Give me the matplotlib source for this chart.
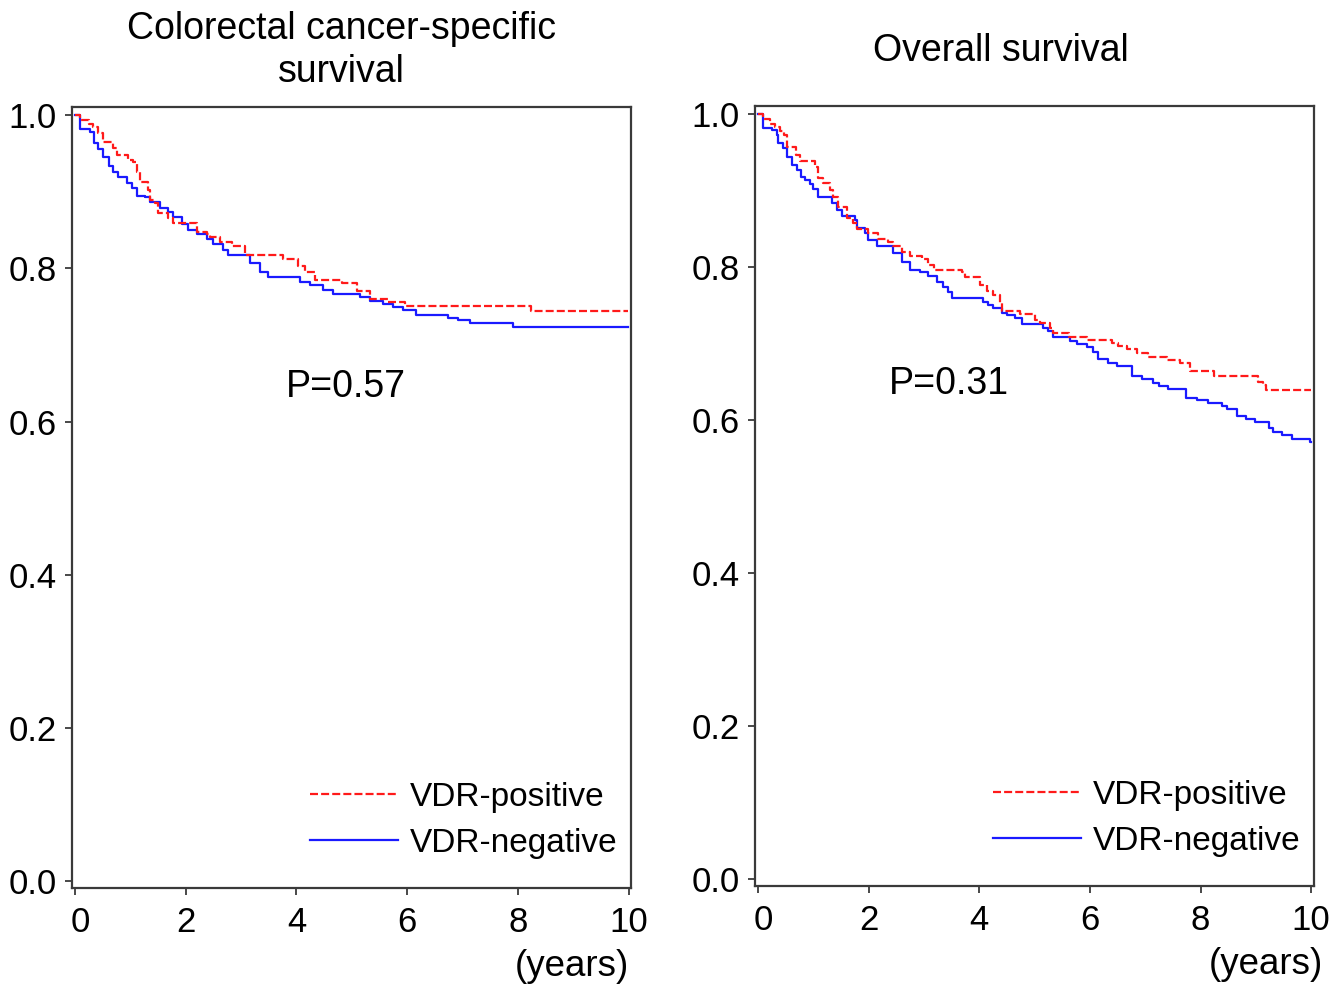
import matplotlib
matplotlib.use("Agg")
import matplotlib.pyplot as plt
import matplotlib.transforms as mtransforms

plt.rcParams['font.family'] = ['Liberation Sans', 'DejaVu Sans']

# Colorectal cancer-specific survival (Kaplan-Meier steps)
css_pos_t = [0, 0.09, 0.25, 0.32, 0.42, 0.51, 0.69, 0.76, 0.96, 1.05, 1.12, 1.17,
             1.32, 1.35, 1.44, 1.50, 1.68, 1.77, 2.20, 2.38, 2.44, 2.62, 2.83, 3.07,
             3.75, 4.03, 4.15, 4.33, 4.82, 5.09, 5.32, 5.65, 5.96, 8.23, 9.98]
css_pos_s = [1.0, 0.993, 0.988, 0.984, 0.977, 0.965, 0.957, 0.948, 0.941, 0.939, 0.926, 0.913,
             0.902, 0.889, 0.885, 0.872, 0.866, 0.859, 0.847, 0.845, 0.841, 0.834, 0.829, 0.817,
             0.812, 0.803, 0.795, 0.785, 0.781, 0.770, 0.760, 0.756, 0.751, 0.744, 0.744]
css_neg_t = [0, 0.09, 0.27, 0.34, 0.42, 0.51, 0.61, 0.69, 0.78, 0.94, 1.03, 1.12, 1.26,
             1.35, 1.53, 1.68, 1.77, 1.93, 2.04, 2.20, 2.38, 2.49, 2.67, 2.76, 3.16, 3.34,
             3.48, 4.06, 4.24, 4.48, 4.66, 5.14, 5.32, 5.56, 5.74, 5.92, 6.16, 6.73, 6.91,
             7.13, 7.91, 9.98]
css_neg_s = [1.0, 0.982, 0.978, 0.963, 0.956, 0.945, 0.933, 0.926, 0.919, 0.911, 0.905, 0.894, 0.893,
             0.886, 0.879, 0.873, 0.867, 0.858, 0.850, 0.845, 0.838, 0.832, 0.824, 0.817, 0.807, 0.795,
             0.789, 0.782, 0.778, 0.772, 0.766, 0.762, 0.758, 0.754, 0.749, 0.745, 0.739, 0.735, 0.732,
             0.728, 0.723, 0.723]

# Overall survival
os_pos_t = [0, 0.09, 0.22, 0.31, 0.40, 0.47, 0.52, 0.69, 0.76, 1.03, 1.08, 1.18, 1.30,
            1.36, 1.45, 1.61, 1.72, 1.79, 1.99, 2.17, 2.35, 2.44, 2.60, 2.75, 2.97, 3.07,
            3.18, 3.69, 3.74, 4.01, 4.14, 4.25, 4.38, 4.41, 4.74, 5.01, 5.10, 5.28, 5.33,
            5.62, 5.95, 6.40, 6.51, 6.67, 6.85, 7.05, 7.40, 7.63, 7.81, 8.25, 9.04, 9.13,
            9.19, 10.0]
os_pos_s = [1.0, 0.994, 0.987, 0.983, 0.978, 0.972, 0.957, 0.947, 0.939, 0.931, 0.917, 0.910, 0.901,
            0.892, 0.878, 0.864, 0.858, 0.850, 0.845, 0.837, 0.833, 0.828, 0.820, 0.815, 0.810, 0.803,
            0.796, 0.793, 0.787, 0.776, 0.769, 0.764, 0.753, 0.743, 0.739, 0.731, 0.727, 0.721, 0.714,
            0.709, 0.705, 0.701, 0.697, 0.693, 0.688, 0.683, 0.679, 0.675, 0.664, 0.658, 0.650, 0.646,
            0.640, 0.640]
os_neg_t = [0, 0.09, 0.25, 0.34, 0.36, 0.45, 0.52, 0.61, 0.71, 0.78, 0.85, 0.94, 0.99,
            1.08, 1.34, 1.43, 1.52, 1.75, 1.79, 1.93, 1.99, 2.15, 2.44, 2.60, 2.75, 2.93,
            3.07, 3.24, 3.35, 3.44, 3.51, 4.07, 4.16, 4.25, 4.41, 4.50, 4.65, 4.77, 5.15,
            5.24, 5.33, 5.64, 5.77, 5.95, 6.06, 6.15, 6.33, 6.49, 6.76, 6.94, 7.14, 7.25,
            7.41, 7.74, 7.94, 8.14, 8.39, 8.48, 8.66, 8.82, 8.99, 9.24, 9.31, 9.48, 9.66,
            9.97, 10.0]
os_neg_s = [1.0, 0.982, 0.979, 0.973, 0.962, 0.955, 0.944, 0.934, 0.927, 0.918, 0.914, 0.908, 0.902,
            0.891, 0.884, 0.875, 0.867, 0.862, 0.851, 0.844, 0.836, 0.828, 0.819, 0.807, 0.796, 0.794,
            0.789, 0.781, 0.774, 0.768, 0.760, 0.754, 0.751, 0.746, 0.740, 0.737, 0.734, 0.726, 0.720,
            0.716, 0.709, 0.703, 0.699, 0.695, 0.689, 0.680, 0.675, 0.671, 0.658, 0.654, 0.649, 0.645,
            0.641, 0.629, 0.627, 0.623, 0.618, 0.615, 0.605, 0.602, 0.597, 0.590, 0.584, 0.580, 0.575,
            0.571, 0.571]

titles = ["Colorectal cancer-specific\nsurvival", "Overall survival"]
p_labels = ["P=0.57", "P=0.31"]
x_ticks = [0, 2, 4, 6, 8, 10]
y_ticks = [0.0, 0.2, 0.4, 0.6, 0.8, 1.0]

frame_col = '#3a3a3a'
red = '#ff1a1a'
blue = '#1a1aff'

fig = plt.figure(figsize=(13.4, 9.89), dpi=100)
ax1 = fig.add_axes([0.0537, 0.1021, 0.4175, 0.7897])
ax2 = fig.add_axes([0.5634, 0.1041, 0.4172, 0.7887])

panels = [
    (ax1, css_pos_t, css_pos_s, css_neg_t, css_neg_s, (4.89, 0.645)),
    (ax2, os_pos_t, os_pos_s, os_neg_t, os_neg_s, (3.45, 0.647)),
]

for i, (ax, pt, ps, nt, ns, ppos) in enumerate(panels):
    ax.step(pt, ps, where='post', color=red, lw=1.6,
            linestyle=(0, (3.6, 1.4)), label='VDR-positive', zorder=3)
    ax.step(nt, ns, where='post', color=blue, lw=1.6, label='VDR-negative', zorder=2)

    ax.set_xlim(-0.054, 10.05)
    ax.set_ylim(-0.0087, 1.0105)
    ax.set_xticks(x_ticks)
    ax.set_yticks(y_ticks)
    ax.set_yticklabels([f"{v:.1f}" for v in y_ticks])
    for sp in ax.spines.values():
        sp.set_color(frame_col)
        sp.set_linewidth(1.6)
    ax.tick_params(direction='out', length=5, width=1.3, color=frame_col,
                   labelsize=25)
    ax.tick_params(axis='x', pad=8)
    ax.tick_params(axis='y', pad=6)

    # first x tick label sits a little to the right of its tick
    lbl0 = ax.get_xticklabels()[0]
    lbl0.set_transform(lbl0.get_transform() +
                       mtransforms.ScaledTranslation(5 / 100, 0, fig.dpi_scale_trans))

    ax.text(ppos[0], ppos[1], p_labels[i], fontsize=27, ha='center', va='center')

    ax.text(0.995 if i == 0 else 1.016, -0.101, "(years)", transform=ax.transAxes,
            fontsize=26.5, ha='right', va='center')

    ax.legend(loc='center left', bbox_to_anchor=(0.4258, 0.087), frameon=False,
              fontsize=24, handlelength=2.64, handletextpad=0.36, labelspacing=0.45,
              borderpad=0, borderaxespad=0)

fig.text(0.2545, 0.949, titles[0], fontsize=27, ha='center', va='center',
         linespacing=1.25)
fig.text(0.747, 0.9485, titles[1], fontsize=27, ha='center', va='center')

fig.savefig("out.png", dpi=100, facecolor='white')
